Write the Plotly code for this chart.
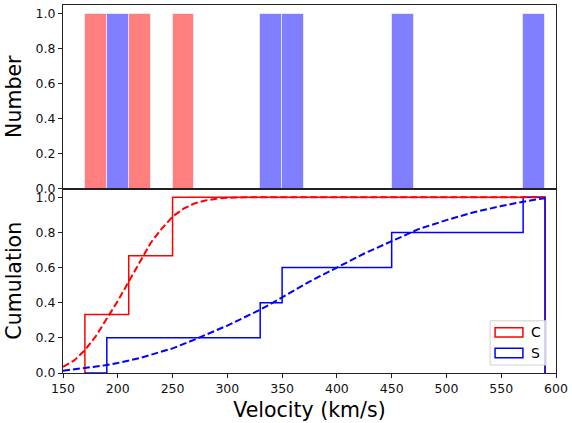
import numpy as np
import plotly.graph_objects as go

# ---- data ----
C_velocities = [180, 220, 260]
S_velocities = [200, 340, 360, 460, 580]
bin_start, bin_end, bin_width = 170, 590, 20

cdf_C_x = [150, 160, 170, 180, 190, 200, 210, 220, 230, 240, 250, 260, 270, 280, 290, 300, 320, 350, 400, 450, 500, 550, 590]
cdf_C_y = [0.035, 0.07, 0.13, 0.21, 0.31, 0.41, 0.52, 0.63, 0.74, 0.82, 0.89, 0.935, 0.965, 0.982, 0.992, 0.997, 1.0, 1.0, 1.0, 1.0, 1.0, 1.0, 1.0]
cdf_S_x = [150, 170, 190, 200, 220, 250, 270, 300, 330, 350, 375, 400, 425, 450, 475, 500, 525, 550, 570, 590]
cdf_S_y = [0.013, 0.028, 0.045, 0.057, 0.085, 0.14, 0.19, 0.27, 0.36, 0.43, 0.52, 0.60, 0.68, 0.75, 0.82, 0.87, 0.915, 0.95, 0.975, 0.995]

x_ticks = [150, 200, 250, 300, 350, 400, 450, 500, 550, 600]
y_ticks = [0.0, 0.2, 0.4, 0.6, 0.8, 1.0]

edges = np.arange(bin_start, bin_end + bin_width, bin_width)
centers = (edges[:-1] + edges[1:]) / 2

def counts(vals):
    c, _ = np.histogram(vals, bins=edges)
    return c

def step_xy(vals):
    c = counts(vals)
    cum = np.cumsum(c) / len(vals)
    xs = [edges[0]]
    ys = [0.0]
    for i in range(len(c)):
        xs += [edges[i], edges[i + 1]]
        ys += [cum[i], cum[i]]
    xs.append(edges[-1])
    ys.append(0.0)
    return xs, ys

fig = go.Figure()
font = "DejaVu Sans"

for vals, col in [(C_velocities, "rgba(255,0,0,0.5)"), (S_velocities, "rgba(0,0,255,0.5)")]:
    c = counts(vals)
    m = c > 0
    fig.add_trace(go.Bar(x=centers[m], y=c[m], width=bin_width, xaxis="x", yaxis="y",
                         marker=dict(color=col, line=dict(color="rgba(255,255,255,0.6)", width=1)),
                         showlegend=False))

for vals, col in [(C_velocities, "#ff0000"), (S_velocities, "#0000ff")]:
    xs, ys = step_xy(vals)
    fig.add_trace(go.Scatter(x=xs, y=ys, mode="lines", xaxis="x2", yaxis="y2",
                             line=dict(color=col, width=1.5), showlegend=False))

fig.add_trace(go.Scatter(x=cdf_C_x, y=cdf_C_y, mode="lines", xaxis="x2", yaxis="y2",
                         line=dict(color="#ff0000", width=2, dash="7px,3px"), showlegend=False))
fig.add_trace(go.Scatter(x=cdf_S_x, y=cdf_S_y, mode="lines", xaxis="x2", yaxis="y2",
                         line=dict(color="#0000ff", width=2, dash="7px,3px"), showlegend=False))

L, R, T, B = 63, 13, 4, 50
W, H = 572, 423
pw, ph = W - L - R, H - T - B
split = (373 - 188) / ph

def px(xp):
    return (xp - L) / pw

def py(yp):
    return (H - B - yp) / ph

axis_common = dict(showline=True, linecolor="#222222", linewidth=1, mirror=True,
                   ticks="outside", ticklen=4, tickcolor="#222222", showgrid=False, zeroline=False,
                   tickfont=dict(family=font, size=12.5, color="#111111"))

fig.update_layout(
    width=W, height=H,
    margin=dict(l=L, r=R, t=T, b=B),
    paper_bgcolor="white", plot_bgcolor="white",
    barmode="overlay", bargap=0,
    font=dict(family=font, color="black"),
    xaxis=dict(domain=[0, 1], anchor="y", range=[150, 600], showticklabels=False, ticks="",
               showline=True, linecolor="#222222", linewidth=1, mirror=True, showgrid=False, zeroline=False),
    yaxis=dict(domain=[split, 1], anchor="x", range=[0, 1.05], tickvals=y_ticks, tickformat=".1f",
               title=dict(text="Number", font=dict(family=font, size=20.5), standoff=8), **axis_common),
    xaxis2=dict(domain=[0, 1], anchor="y2", range=[150, 600], tickvals=x_ticks,
                title=dict(text="Velocity (km/s)", font=dict(family=font, size=20.5), standoff=7), **axis_common),
    yaxis2=dict(domain=[0, split], anchor="x2", range=[0, 1.05], tickvals=y_ticks, tickformat=".1f",
                title=dict(text="Cumulation", font=dict(family=font, size=20.5), standoff=8), **axis_common),
)

# legend drawn manually (matplotlib-style patches)
shapes = [
    dict(type="rect", xref="paper", yref="paper", x0=px(492.7), x1=px(549), y0=py(365), y1=py(320.7),
         line=dict(color="#d0d0d0", width=1), fillcolor="rgba(255,255,255,0.8)", layer="above"),
    dict(type="rect", xref="paper", yref="paper", x0=px(497.7), x1=px(525.7), y0=py(337), y1=py(327.7),
         line=dict(color="#ff0000", width=1.5), fillcolor="rgba(0,0,0,0)", layer="above"),
    dict(type="rect", xref="paper", yref="paper", x0=px(497.7), x1=px(525.7), y0=py(357.7), y1=py(348.3),
         line=dict(color="#0000ff", width=1.5), fillcolor="rgba(0,0,0,0)", layer="above"),
]
fig.update_layout(shapes=shapes)
for label, ypix in [("C", 332.3), ("S", 353)]:
    fig.add_annotation(x=px(532), y=py(ypix), xref="paper", yref="paper", text=label, showarrow=False,
                       xanchor="left", yanchor="middle", font=dict(family=font, size=14, color="black"))

fig.write_html("out.html")
